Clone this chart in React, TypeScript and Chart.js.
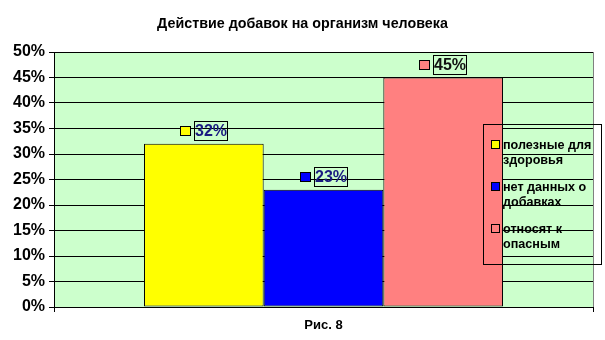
import React, { useEffect, useRef } from 'react';
import { Chart, registerables } from 'chart.js';

Chart.register(...registerables);

const chartTitle = 'Действие добавок на организм человека';
const xAxisTitle = 'Рис. 8';
const categories = [''];
const seriesNames: string[][] = [
  ['полезные для', 'здоровья'],
  ['нет данных о', 'добавках'],
  ['относят к', 'опасным'],
];
const seriesValues = [32, 23, 45];
const seriesColors = ['#FFFF00', '#0000FF', '#FF8080'];
const labelTextColors = ['#1a1a80', '#1a1a80', '#111111'];
const yMin = 0;
const yMax = 50;
const yStep = 5;

const FONT = "'Liberation Sans', Arial, sans-serif";

const decorPlugin = {
  id: 'decor',
  beforeDraw(chart: any) {
    const { ctx, chartArea } = chart;
    ctx.save();
    ctx.fillStyle = '#CCFFCC';
    ctx.fillRect(chartArea.left, chartArea.top, chartArea.right - chartArea.left, chartArea.bottom - chartArea.top);
    ctx.restore();
  },
  afterDatasetsDraw(chart: any) {
    const { ctx, chartArea } = chart;
    ctx.save();
    // chart title
    ctx.fillStyle = '#000';
    ctx.font = `bold 14.3px ${FONT}`;
    ctx.textAlign = 'center';
    ctx.textBaseline = 'middle';
    ctx.fillText(chartTitle, chart.width / 2, 24);

    // right plot border
    ctx.strokeStyle = '#808080';
    ctx.lineWidth = 1;
    ctx.beginPath();
    ctx.moveTo(Math.round(chartArea.right) + 0.5, chartArea.top);
    ctx.lineTo(Math.round(chartArea.right) + 0.5, chartArea.bottom);
    ctx.stroke();

    // value labels
    chart.data.datasets.forEach((ds: any, i: number) => {
      const meta = chart.getDatasetMeta(i);
      const bar = meta.data[0];
      if (!bar) return;
      const cx = Math.round(bar.x);
      const top = Math.round(bar.y);
      const text = ds.data[0] + '%';
      const boxL = cx - 10;
      const boxW = 34;
      const boxT = top - 23;
      const boxH = 20;
      ctx.fillStyle = seriesColors[i];
      ctx.fillRect(cx - 24, boxT + 5, 11, 10);
      ctx.strokeStyle = '#000';
      ctx.strokeRect(cx - 24 + 0.5, boxT + 5 + 0.5, 10, 9);
      ctx.strokeRect(boxL + 0.5, boxT + 0.5, boxW - 1, boxH - 1);
      ctx.fillStyle = labelTextColors[i];
      ctx.font = `bold 16px ${FONT}`;
      ctx.textAlign = 'center';
      ctx.textBaseline = 'middle';
      ctx.fillText(text, boxL + boxW / 2, boxT + boxH / 2 + 1);
    });

    // legend
    const lx = 483, ly = 124, lw = 118, lh = 140;
    ctx.strokeStyle = '#000';
    ctx.lineWidth = 1;
    ctx.strokeRect(lx + 0.5, ly + 0.5, lw, lh);
    ctx.font = `bold 12.6px ${FONT}`;
    ctx.textAlign = 'left';
    ctx.textBaseline = 'alphabetic';
    seriesNames.forEach((lines, i) => {
      const base = 149 + i * 42;
      ctx.fillStyle = seriesColors[i];
      ctx.fillRect(491, base - 9, 9, 9);
      ctx.strokeStyle = '#000';
      ctx.strokeRect(491.5, base - 8.5, 8, 8);
      ctx.fillStyle = '#000';
      lines.forEach((ln, j) => {
        ctx.fillText(ln, 503, base + j * 15);
      });
    });
    ctx.restore();
  },
};

export default function App() {
  const ref = useRef<HTMLCanvasElement | null>(null);
  useEffect(() => {
    document.body.style.margin = '0';
    if (!ref.current) return;
    Chart.defaults.font.family = FONT;
    const chart = new Chart(ref.current, {
      type: 'bar',
      data: {
        labels: categories,
        datasets: seriesValues.map((v, i) => ({
          label: seriesNames[i].join(' '),
          data: [v],
          backgroundColor: seriesColors[i],
          borderColor: '#000',
          borderWidth: 1,
          borderSkipped: false,
          categoryPercentage: 0.666,
          barPercentage: 1,
        })),
      },
      options: {
        animation: false,
        responsive: false,
        maintainAspectRatio: false,
        devicePixelRatio: 1,
        layout: { padding: { left: 0, right: 12, top: 52, bottom: 0 } },
        plugins: {
          legend: { display: false },
          tooltip: { enabled: false },
          title: { display: false },
        },
        scales: {
          x: {
            type: 'category',
            grid: { display: true, drawOnChartArea: false, drawTicks: true, tickLength: 5, color: '#000' },
            border: { display: true, color: '#000' },
            ticks: { display: false },
            title: {
              display: true,
              text: xAxisTitle,
              color: '#000',
              font: { size: 13, weight: 'bold', family: FONT },
              padding: { top: 5.2, bottom: 7.2 },
            },
          },
          y: {
            min: yMin,
            max: yMax,
            grid: { color: '#000', tickLength: 5 },
            border: { display: true, color: '#000' },
            ticks: {
              stepSize: yStep,
              padding: 4,
              color: '#000',
              font: { size: 16, weight: 'bold', family: FONT },
              callback: (v: any) => v + '%',
            },
            afterFit: (scale: any) => {
              scale.width = 54;
            },
          },
        },
      },
      plugins: [decorPlugin],
    } as any);
    return () => chart.destroy();
  }, []);
  return (
    <div style={{ position: 'absolute', left: 0, top: 0, width: 605, height: 340 }}>
      <canvas ref={ref} width={605} height={340} style={{ width: 605, height: 340 }} />
    </div>
  );
}
